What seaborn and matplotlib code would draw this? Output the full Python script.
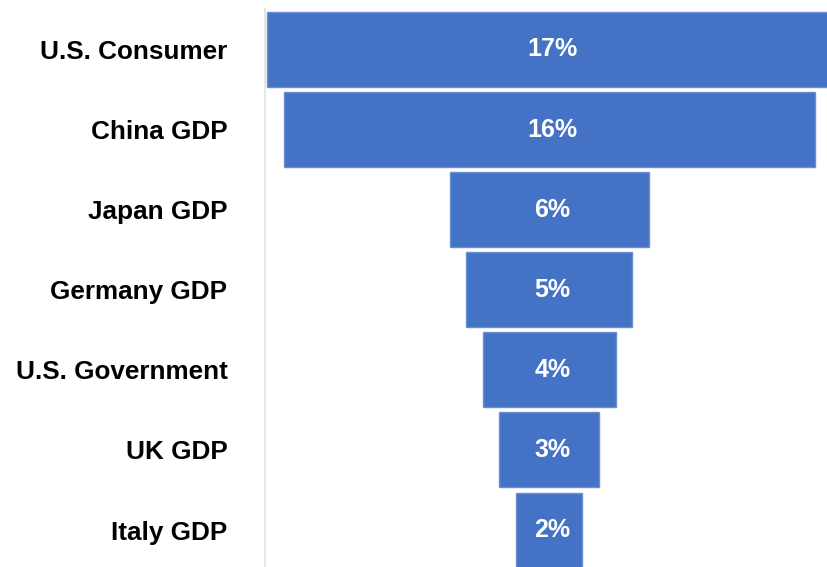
import matplotlib
matplotlib.use("Agg")
import matplotlib.pyplot as plt
import seaborn as sns
import pandas as pd

# Share of the total, per economy / sector
categories = ["U.S. Consumer", "China GDP", "Japan GDP", "Germany GDP",
              "U.S. Government", "UK GDP", "Italy GDP"]
shares = [17, 16, 6, 5, 4, 3, 2]
value_labels = ["17%", "16%", "6%", "5%", "4%", "3%", "2%"]

sns.set_theme(style="white")
plt.rcParams["font.family"] = ["Liberation Sans", "DejaVu Sans"]

df = pd.DataFrame({"category": categories, "share": shares})

fig = plt.figure(figsize=(8.27, 5.67), dpi=100)
ax = fig.add_axes([265 / 827, -3.1 / 567, 1 - 265 / 827, 560.7 / 567])

sns.barplot(data=df, y="category", x="share", orient="h", color="#4472C4",
            saturation=1, width=0.936, edgecolor="#6a8fd3", linewidth=1.0, ax=ax)

# Center every bar on zero to form the funnel
for patch, v in zip(ax.patches, shares):
    patch.set_x(-v / 2)
    patch.set_width(v)

for i, (v, lab) in enumerate(zip(shares, value_labels)):
    ax.text(0.1, i, lab, ha="center", va="center", color="white",
            fontsize=18, fontweight="bold")

ax.set_xlim(-8.56, 8.37)
ax.set_ylim(6.5, -0.5)
ax.set_xlabel("")
ax.set_ylabel("")
ax.set_xticks([])
ax.tick_params(axis="y", length=0, pad=27, labelsize=18.8)
for t in ax.get_yticklabels():
    t.set_fontweight("bold")
    t.set_color("black")

for side in ["top", "right", "bottom"]:
    ax.spines[side].set_visible(False)
ax.spines["left"].set_color("#e3e3e3")
ax.spines["left"].set_linewidth(1.2)

fig.savefig("out.png", dpi=100)
